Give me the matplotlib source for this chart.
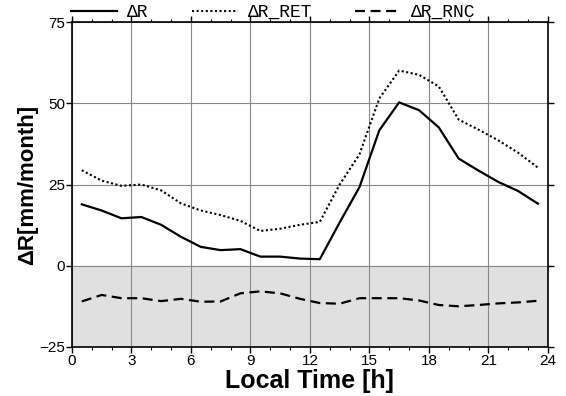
import numpy as np
import matplotlib
matplotlib.use('Agg')
from matplotlib import pyplot as plt

horas = np.arange(0.5, 24, 1.0)

dR = [18.9, 17.0, 14.6, 15.0, 12.6, 8.9, 5.8, 4.8, 5.1, 2.8, 2.8, 2.2,
      2.0, 13.3, 24.2, 41.7, 50.3, 47.9, 42.6, 33.0, 29.3, 25.8, 23.0, 19.1]
dR_RET = [29.4, 26.2, 24.6, 25.0, 23.2, 19.2, 17.0, 15.6, 13.8, 10.7, 11.4, 12.6,
          13.5, 25.0, 34.3, 51.5, 60.1, 58.8, 55.2, 45.0, 41.9, 38.6, 34.8, 30.2]
dR_RNC = [-11.0, -9.0, -10.0, -10.0, -10.9, -10.2, -11.1, -11.0, -8.5, -7.9, -8.5, -10.2,
          -11.5, -11.7, -10.0, -10.0, -10.0, -10.7, -12.1, -12.5, -12.1, -11.6, -11.3, -10.8]

xticks = [0, 3, 6, 9, 12, 15, 18, 21, 24]
yticks = [-25, 0, 25, 50, 75]
rotulos = ['\u0394R', '\u0394R_RET', '\u0394R_RNC']

plt.rcParams['font.family'] = ['Liberation Sans', 'DejaVu Sans']

fig = plt.figure(figsize=(5.66, 3.96), dpi=100)
ax = fig.add_axes([0.127, 0.124, 0.841, 0.820])

ax.axhspan(-25, 0, color='#e0e0e0', zorder=0)
ax.grid(True, color='#888888', linewidth=0.8, zorder=1)
ax.set_axisbelow(True)

l1, = ax.plot(horas, dR, color='black', linewidth=1.6, linestyle='-', zorder=3)
l2, = ax.plot(horas, dR_RET, color='black', linewidth=1.5, linestyle=(0, (1, 1.2)), zorder=3)
l3, = ax.plot(horas, dR_RNC, color='black', linewidth=1.6, linestyle=(0, (4.5, 2.5)), zorder=3)

ax.set_xlim(0, 24)
ax.set_ylim(-25, 75)
ax.set_xticks(xticks)
ax.set_yticks(yticks)
ax.set_xticks(np.arange(0, 25, 1), minor=True)
ax.tick_params(axis='both', which='major', direction='out', length=4, width=1,
               labelsize=11, top=True, right=True, pad=1)
ax.tick_params(axis='x', which='minor', direction='out', length=2.5, width=0.8, top=True)
for s in ax.spines.values():
    s.set_linewidth(1.2)

ax.set_xlabel('Local Time [h]', fontsize=18, fontweight='bold', labelpad=1)
ax.set_ylabel('\u0394R[mm/month]', fontsize=16, fontweight='bold', labelpad=1)

leg = fig.legend([l1, l2, l3], rotulos, loc='center left', bbox_to_anchor=(0.125, 0.968),
                 ncol=3, frameon=False, handlelength=2.55, columnspacing=2.4,
                 handletextpad=0.55, borderaxespad=0, borderpad=0,
                 prop={'family': ['Liberation Mono', 'DejaVu Sans Mono'], 'size': 13})

plt.savefig('out.png', dpi=100)
